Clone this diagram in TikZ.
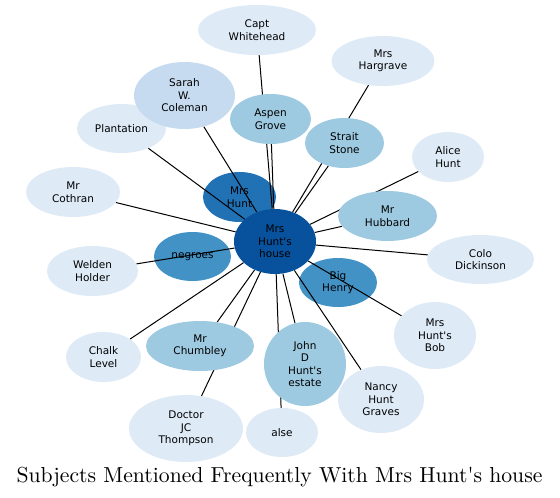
\documentclass[tikz,border=0pt]{standalone}
\usepackage{fontspec}
\newfontfamily\nodefont{DejaVu Sans}
\newfontfamily\titlefont{lmroman10-regular.otf}
\usetikzlibrary{shapes.geometric}
\pgfdeclarelayer{bg}
\pgfdeclarelayer{dark}
\pgfdeclarelayer{edges}
\pgfsetlayers{bg,dark,edges,main}
\definecolor{bA}{HTML}{DEEBF7}
\definecolor{bB}{HTML}{C6DBEF}
\definecolor{bC}{HTML}{9ECAE1}
\definecolor{bD}{HTML}{4292C6}
\definecolor{bE}{HTML}{2171B5}
\definecolor{bF}{HTML}{08519C}
\newcommand{\qs}{\textquotesingle}
\begin{document}
\begin{tikzpicture}[x=1pt,y=-1pt,
  ent/.style={ellipse, inner sep=0pt, align=center, text=black,
    font=\nodefont\fontsize{10.5}{12.5}\selectfont},
  conn/.style={line width=1pt, black},
  ttl/.style={font=\titlefont\fontsize{21.7}{25}\selectfont, anchor=base, inner sep=0pt}]
\useasboundingbox (0,0) rectangle (560,498);
\begin{pgfonlayer}{bg}
\fill[white] (0,0) rectangle (560,498);
\end{pgfonlayer}

\begin{pgfonlayer}{dark}
\node[ent, fill=bE, minimum width=73pt, minimum height=50pt] (mrshunt) at (239.5,197) {Mrs\\Hunt};
\node[ent, fill=bD, minimum width=77pt, minimum height=49pt] (negroes) at (192.5,256.5) {negroes};
\node[ent, fill=bD, minimum width=78pt, minimum height=49pt] (bighenry) at (338,282.5) {Big\\Henry};
\end{pgfonlayer}

\node[ent, fill=bA, minimum width=118pt, minimum height=50pt] (capt) at (257,30) {Capt\\Whitehead};
\node[ent, fill=bA, minimum width=103pt, minimum height=50pt] (harg) at (383,61) {Mrs\\Hargrave};
\node[ent, fill=bA, minimum width=89pt, minimum height=49pt] (plant) at (121.5,128.5) {Plantation};
\node[ent, fill=bB, minimum width=101pt, minimum height=67pt] (sarah) at (184.5,95.5) {Sarah\\W.\\Coleman};
\node[ent, fill=bC, minimum width=81pt, minimum height=50pt] (aspen) at (270.5,119) {Aspen\\Grove};
\node[ent, fill=bC, minimum width=79pt, minimum height=50pt] (strait) at (344.5,143) {Strait\\Stone};
\node[ent, fill=bA, minimum width=72pt, minimum height=50pt] (alice) at (448,157) {Alice\\Hunt};
\node[ent, fill=bA, minimum width=94pt, minimum height=50pt] (cothran) at (73,192) {Mr\\Cothran};
\node[ent, fill=bC, minimum width=99pt, minimum height=50pt] (hubbard) at (387.5,216) {Mr\\Hubbard};
\node[ent, fill=bA, minimum width=107pt, minimum height=49pt] (colo) at (480.5,259.5) {Colo\\Dickinson};
\node[ent, fill=bA, minimum width=91pt, minimum height=50pt] (welden) at (92.5,271) {Welden\\Holder};
\node[ent, fill=bA, minimum width=82pt, minimum height=67pt] (bob) at (435,335.5) {Mrs\\Hunt\qs s\\Bob};
\node[ent, fill=bA, minimum width=75pt, minimum height=50pt] (chalk) at (103.5,357) {Chalk\\Level};
\node[ent, fill=bC, minimum width=108pt, minimum height=50pt] (chumbley) at (200,346) {Mr\\Chumbley};
\node[ent, fill=bC, minimum width=82pt, minimum height=84pt] (johnd) at (305,364) {John\\D\\Hunt\qs s\\estate};
\node[ent, fill=bA, minimum width=86pt, minimum height=67pt] (nancy) at (381,399.5) {Nancy\\Hunt\\Graves};
\node[ent, fill=bA, minimum width=114pt, minimum height=67pt] (doctor) at (186,428.5) {Doctor\\JC\\Thompson};
\node[ent, fill=bA, minimum width=72pt, minimum height=49pt] (alse) at (282,432.5) {alse};
\node[ent, fill=bF, minimum width=82pt, minimum height=65pt] (house) at (275,241.5) {Mrs\\Hunt\qs s\\house};

\begin{pgfonlayer}{edges}
\foreach \t in {capt,harg,sarah,plant,aspen,strait,alice,cothran,hubbard,colo,welden,bob,chalk,chumbley,johnd,nancy,doctor,alse}
  \draw[conn] (house) -- (\t);
\end{pgfonlayer}

\node[ttl] (title) at (279.5,482) {Subjects Mentioned Frequently With Mrs Hunt\qs s house};
\end{tikzpicture}
\end{document}
